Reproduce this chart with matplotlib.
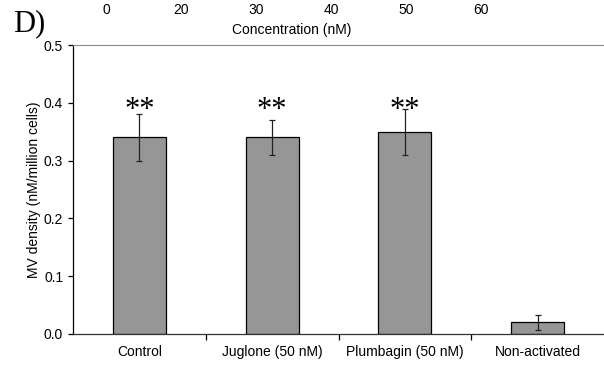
import matplotlib
matplotlib.use('Agg')
import numpy as np
import matplotlib.pyplot as plt

# MV density per condition, mean and error
groups = ['Control', 'Juglone (50 nM)', 'Plumbagin (50 nM)', 'Non-activated']
density = [0.34, 0.34, 0.35, 0.02]
errors = [0.04, 0.03, 0.04, 0.013]
signif = ['**', '**', '**', '']

# top concentration scale
conc_labels = ['0', '20', '30', '40', '50', '60']

plt.rcParams['font.family'] = ['Liberation Sans', 'DejaVu Sans']
serif = ['Liberation Serif', 'DejaVu Serif']

fig = plt.figure(figsize=(6.04, 3.68), dpi=100)
ax = fig.add_axes([0.1209, 0.0924, 0.8791, 0.7853])

x = np.arange(len(groups))
ax.bar(x, density, width=0.4, color='#969696', edgecolor='black', linewidth=0.9,
       yerr=errors, error_kw=dict(ecolor='#222222', elinewidth=0.9, capsize=2.5, capthick=0.9))

for xi, s in zip(x, signif):
    if s:
        ax.text(xi, 0.387, s, ha='center', va='center', fontsize=22, family=serif)

ax.set_xlim(-0.5, len(groups) - 0.5)
ax.set_ylim(0, 0.5)
ax.set_yticks(np.arange(0, 0.51, 0.1))
ax.set_yticklabels(['%.1f' % v for v in np.arange(0, 0.51, 0.1)])
ax.set_xticks(x)
ax.set_xticklabels(groups)
ax.set_xticks(x[:-1] + 0.5, minor=True)
ax.tick_params(axis='x', which='major', length=0, labelsize=10, pad=8)
ax.tick_params(axis='x', which='minor', length=4, width=0.9, direction='out')
ax.tick_params(axis='y', length=3.6, width=0.9, labelsize=10, pad=3.5)
ax.set_ylabel('MV density (nM/million cells)', fontsize=10, labelpad=2)

ax.spines['right'].set_visible(False)
ax.spines['top'].set_color('#8c8c8c')
ax.spines['left'].set_linewidth(0.9)
ax.spines['bottom'].set_linewidth(0.9)
ax.spines['bottom'].set_color('#333333')

# secondary concentration axis on top
ax2 = ax.twiny()
ax2.set_xlim(-0.44, 6.64)
ax2.set_xticks(np.arange(len(conc_labels)))
ax2.set_xticklabels(conc_labels)
ax2.tick_params(axis='x', length=0, labelsize=10, pad=20.5)
for s in ax2.spines.values():
    s.set_visible(False)
fig.text(0.4834, 0.9185, 'Concentration (nM)', fontsize=10, ha='center', va='center')

fig.text(0.021, 0.936, 'D)', fontsize=22, ha='left', va='center', family=serif)

fig.savefig('out.png', dpi=100)
